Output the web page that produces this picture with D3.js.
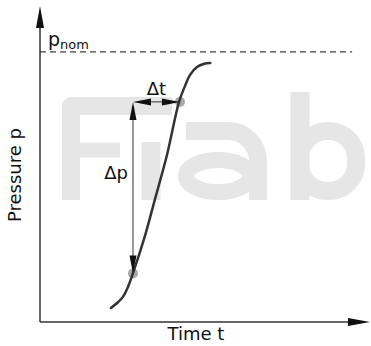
<!DOCTYPE html>
<html>
<head>
<meta charset="utf-8">
<script src="https://cdn.jsdelivr.net/npm/d3@7"></script>
<style>
  body { margin: 0; background: #fff; }
  svg { display: block; }
</style>
</head>
<body>
<script>
// pressure rise p(t) towards p_nom, with the delta-p / delta-t construction

// curve samples (t in s, p as fraction of p_nom)
const curveT = [2.25, 2.48, 2.63, 2.79, 2.95, 3.33, 3.65, 4.03, 4.41, 4.60, 4.76, 4.98, 5.21, 5.40];
const curveP = [0.052, 0.074, 0.093, 0.130, 0.181, 0.319, 0.456, 0.619, 0.815, 0.874, 0.915, 0.944, 0.956, 0.959];
// the two marked points (start / end of the rise)
const markT = [2.95, 4.44];
const markP = [0.18, 0.815];
const pNom = 1;
const xLabel = "Time t";
const yLabel = "Pressure p";

const width = 371;
const height = 346;

const svg = d3.select("body")
    .append("svg")
    .attr("width", width)
    .attr("height", height);

const x = d3.scaleLinear().domain([0, 10.5]).range([40, 371]);
const y = d3.scaleLinear().domain([0, 1.17]).range([322, 6]);

// faint logo watermark behind the chart
const wm = svg.append("g")
    .attr("fill", "none")
    .attr("stroke", "#e6e6e6")
    .attr("stroke-linejoin", "round");
wm.append("path").attr("d", "M172,106 H71 V200").attr("stroke-width", 18);
wm.append("path").attr("d", "M71,150 H120").attr("stroke-width", 15);
wm.append("path").attr("d", "M151,142 V200").attr("stroke-width", 19);
wm.append("path").attr("d", "M186,131 H228 A30,30 0 0 1 258,161 V200").attr("stroke-width", 18);
wm.append("ellipse").attr("cx", 218).attr("cy", 176).attr("rx", 32).attr("ry", 16).attr("stroke-width", 16);
wm.append("path").attr("d", "M300,92 V200").attr("stroke-width", 19);
wm.append("rect").attr("x", 300).attr("y", 131).attr("width", 56).attr("height", 60)
    .attr("rx", 27).attr("stroke-width", 18);

// filled arrow head, tip at (tx, ty), pointing in direction (dx, dy)
function arrowHead(tx, ty, dx, dy, len, half) {
    const bx = tx - dx * len, by = ty - dy * len;
    const px = -dy * half, py = dx * half;
    svg.append("path")
        .attr("d", `M${tx},${ty} L${bx + px},${by + py} L${bx - px},${by - py} Z`)
        .attr("fill", "#111");
}

const x0 = x(0), y0 = y(0);
const xEnd = x.range()[1], yEnd = y.range()[1];

// axes
svg.append("line")
    .attr("x1", x0).attr("y1", y0).attr("x2", x0).attr("y2", yEnd + 10)
    .attr("stroke", "#333").attr("stroke-width", 1.5);
svg.append("line")
    .attr("x1", x0).attr("y1", y0).attr("x2", xEnd - 10).attr("y2", y0)
    .attr("stroke", "#333").attr("stroke-width", 1.5);
arrowHead(x0, yEnd, 0, -1, 22, 4);
arrowHead(xEnd - 1, y0, 1, 0, 22, 4);

// p_nom dashed line
svg.append("line")
    .attr("x1", x0).attr("x2", x(9.9))
    .attr("y1", y(pNom)).attr("y2", y(pNom))
    .attr("stroke", "#111").attr("stroke-width", 1)
    .attr("stroke-dasharray", "6,4");

const pn = svg.append("text")
    .attr("x", x0 + 8).attr("y", y(pNom) - 6)
    .attr("font-family", "DejaVu Sans").attr("fill", "#111");
pn.append("tspan").attr("font-size", 19).text("p");
pn.append("tspan").attr("font-size", 13).attr("dy", 3).text("nom");

// marked points
svg.selectAll("circle.mark")
    .data(markT.map((t, i) => ({t: t, p: markP[i]})))
    .join("circle")
    .attr("class", "mark")
    .attr("cx", d => x(d.t))
    .attr("cy", d => y(d.p))
    .attr("r", 5)
    .attr("fill", "#a8a8a8");

// pressure curve
const line = d3.line()
    .x(d => x(d.t))
    .y(d => y(d.p))
    .curve(d3.curveCatmullRom);

svg.append("path")
    .datum(curveT.map((t, i) => ({t: t, p: curveP[i]})))
    .attr("fill", "none")
    .attr("stroke", "#333")
    .attr("stroke-width", 2.5)
    .attr("stroke-linecap", "round")
    .attr("d", line);

// delta p (vertical) and delta t (horizontal) arrows
const ax = x(markT[0]), bx = x(markT[1]);
const ay = y(markP[0]), by = y(markP[1]);
svg.append("line")
    .attr("x1", ax).attr("y1", ay - 14).attr("x2", ax).attr("y2", by + 14)
    .attr("stroke", "#333").attr("stroke-width", 1);
arrowHead(ax, by, 0, -1, 18, 3.5);
arrowHead(ax, ay, 0, 1, 18, 3.5);
svg.append("line")
    .attr("x1", ax + 14).attr("y1", by).attr("x2", bx - 14).attr("y2", by)
    .attr("stroke", "#333").attr("stroke-width", 1);
arrowHead(ax, by, -1, 0, 18, 3.5);
arrowHead(bx, by, 1, 0, 18, 3.5);

svg.append("text")
    .attr("x", (ax + bx) / 2).attr("y", by - 7)
    .attr("text-anchor", "middle")
    .attr("font-family", "DejaVu Sans").attr("font-size", 18).attr("fill", "#111")
    .text("Δt");
svg.append("text")
    .attr("x", ax - 5).attr("y", y(0.53))
    .attr("text-anchor", "end")
    .attr("font-family", "DejaVu Sans").attr("font-size", 18).attr("fill", "#111")
    .text("Δp");

// axis titles
svg.append("text")
    .attr("x", 196).attr("y", 340)
    .attr("text-anchor", "middle")
    .attr("font-family", "DejaVu Sans").attr("font-size", 18).attr("fill", "#111")
    .text(xLabel);
svg.append("text")
    .attr("transform", "translate(21,175) rotate(-90)")
    .attr("text-anchor", "middle")
    .attr("font-family", "DejaVu Sans").attr("font-size", 18).attr("fill", "#111")
    .text(yLabel);
</script>
</body>
</html>
